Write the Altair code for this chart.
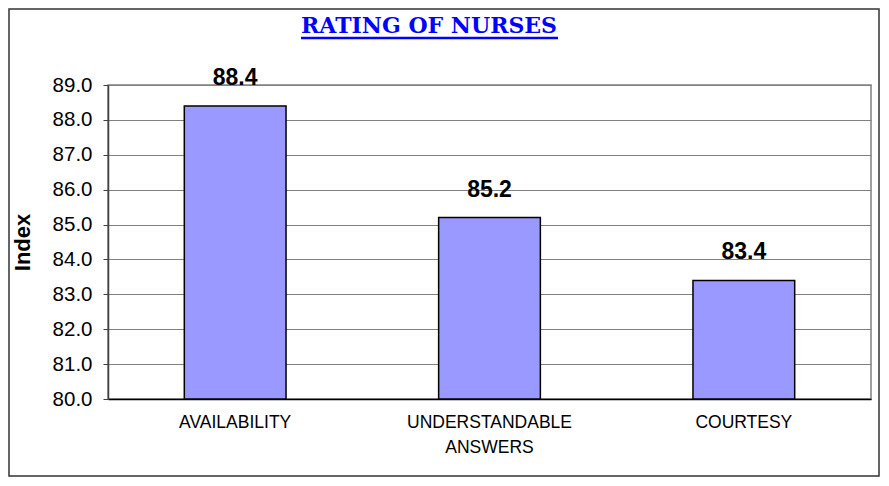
import altair as alt
import pandas as pd

categories = ["AVAILABILITY", "UNDERSTANDABLE ANSWERS", "COURTESY"]
values = [88.4, 85.2, 83.4]
y_ticks = [80, 81, 82, 83, 84, 85, 86, 87, 88, 89]
title_text = "RATING OF NURSES"
y_title = "Index"

df = pd.DataFrame({"category": categories, "value": values})
one = pd.DataFrame({"a": [0]})

W, H = 763, 314

x_enc = alt.X(
    "category:N",
    sort=categories,
    title=None,
    scale=alt.Scale(paddingInner=0.6, paddingOuter=0.3),
    axis=alt.Axis(
        labelAngle=0,
        labelExpr="split(datum.label, ' ')",
        labelFont="Liberation Sans",
        labelFontSize=17.5,
        labelColor="black",
        labelPadding=14,
        labelLineHeight=25,
        labelOverlap=False,
        ticks=False,
        domainColor="black",
        domainWidth=1.5,
        grid=False,
    ),
)
y_enc = alt.Y(
    "value:Q",
    title=y_title,
    scale=alt.Scale(domain=[80, 89], nice=False, zero=False),
    axis=alt.Axis(
        values=y_ticks,
        format=".1f",
        labelOverlap=False,
        labelFont="Liberation Sans",
        labelFontSize=20.5,
        labelColor="black",
        labelPadding=11,
        tickSize=5,
        tickColor="#404040",
        domainColor="#404040",
        domainWidth=1.5,
        gridColor="#808080",
        gridWidth=1,
        titleFont="Liberation Sans",
        titleFontSize=22,
        titleFontWeight="bold",
        titleColor="black",
        titlePadding=18,
    ),
)

border = alt.Chart(one).mark_rect(
    fill="transparent", stroke="#333333", strokeWidth=1.5
).encode(
    x=alt.value(-99), x2=alt.value(771), y=alt.value(-76), y2=alt.value(391)
)

bars = alt.Chart(df).mark_bar(
    color="#9999FF", stroke="black", strokeWidth=1.5
).encode(x=x_enc, y=y_enc, y2=alt.datum(80))

labels = alt.Chart(df).mark_text(
    font="Liberation Sans", fontSize=23, fontWeight="bold", color="black",
    baseline="alphabetic", dy=-21
).encode(
    x=x_enc,
    y=y_enc,
    text=alt.Text("value:Q", format=".1f"),
)

title = alt.Chart(one).mark_text(
    text=title_text, font="DejaVu Serif", fontSize=22, fontWeight="bold",
    color="#0000FF", baseline="alphabetic", align="center"
).encode(x=alt.value(321), y=alt.value(-52))

underline = alt.Chart(one).mark_rule(color="#0000FF", strokeWidth=2.5).encode(
    x=alt.value(193), x2=alt.value(450), y=alt.value(-47)
)

chart = alt.layer(border, bars, labels, title, underline).properties(
    width=W,
    height=H,
    autosize=alt.AutoSizeParams(type="none"),
    padding={"left": 100, "top": 77, "right": 9, "bottom": 78},
    background="white",
).configure_view(stroke="#808080", strokeWidth=1.5)

chart.save("out.html", embed_options={"renderer": "svg", "actions": False})
